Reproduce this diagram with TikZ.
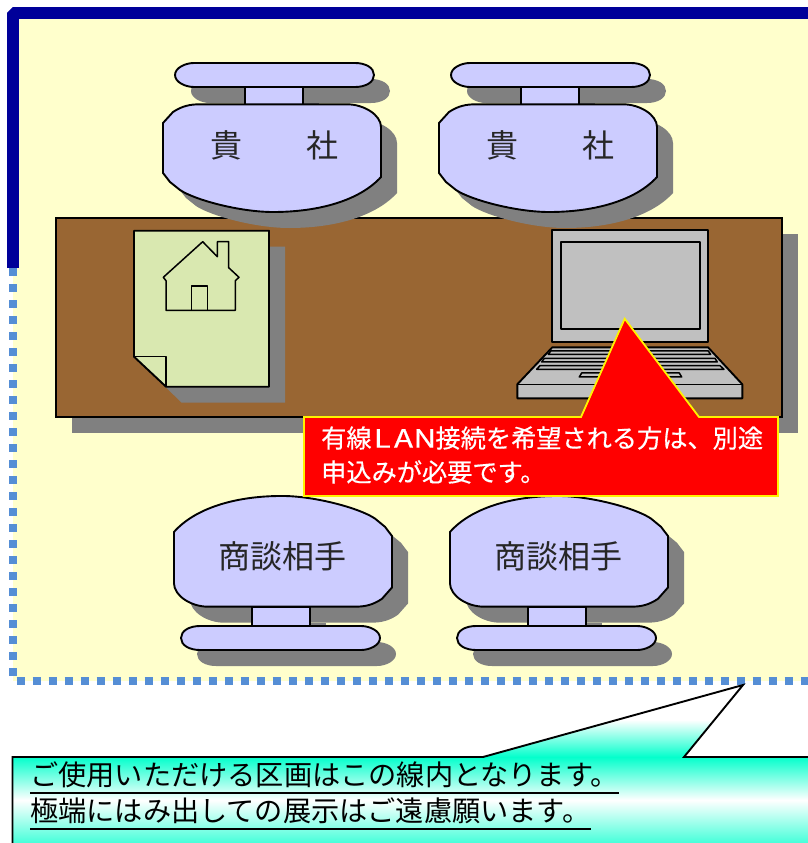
\documentclass[tikz,border=0pt]{standalone}
\usepackage{fontspec}
\usepackage{graphicx}
\setmainfont{Noto Sans CJK JP}
\setsansfont{Noto Sans CJK JP}
\newfontfamily\whitefont[FakeBold=0.5]{Noto Sans CJK JP}
\definecolor{navyline}{HTML}{000099}
\definecolor{dotblue}{HTML}{558ED5}
\definecolor{paleyellow}{HTML}{FFFFCC}
\definecolor{seatblue}{HTML}{CCCCFF}
\definecolor{tablebrown}{HTML}{996633}
\definecolor{shadowgray}{HTML}{808080}
\definecolor{docgreen}{HTML}{D9E8B0}
\definecolor{laptopgray}{HTML}{C0C0C0}
\definecolor{aqlow}{HTML}{30FFD5}
\definecolor{aqhigh}{HTML}{04FFCC}
\pgfdeclareverticalshading{calloutshade}{100bp}{
  color(0bp)=(aqlow);
  color(25bp)=(aqlow);
  color(39.7bp)=(white);
  color(52.9bp)=(aqhigh);
  color(64.3bp)=(white);
  color(100bp)=(white)}
\tikzset{
  x=1pt,y=-1pt,
  ink/.style={draw=black,line width=1.9pt,line join=round},
  thinink/.style={draw=black,line width=1.5pt,line join=round},
  shadowfill/.style={fill=shadowgray,draw=none},
  seatpart/.style={fill=seatblue,ink},
  dotline/.style={draw=dotblue,line width=8pt,dash pattern=on 8pt off 8pt},
  seatlabel/.style={inner sep=0pt,text=black!85,font=\fontsize{32}{34}\selectfont},
  notelabel/.style={inner sep=0pt,anchor=west,minimum height=36pt,font=\fontsize{28.2}{30}\selectfont},
  underline/.style={draw=black,line width=2pt}
}
\newcommand{\seatbody}{(163,123) -- (173,112) .. controls (182,106) and (190,104.3) .. (200,104.3) -- (347,104.3) .. controls (364,104.3) and (381,115) .. (381,127) -- (381,177) .. controls (360,200) and (320,212) .. (273,212) .. controls (240,212) and (195,200) .. (180,190) -- (170,182) -- (163,173) -- cycle}
\newcommand{\seatbar}{(175,75) .. controls (175,68) and (185,63) .. (194,63) -- (355,63) .. controls (366,63) and (374,68) .. (374,75) .. controls (374,82) and (366,87) .. (355,87) -- (194,87) .. controls (185,87) and (175,82) .. (175,75) -- cycle}
\newcommand{\seatneck}{(245,86) rectangle (303,106)}
% #1 X, #2 Y of bar and neck, #3 Y of body, #4 sign, #5 body y scale
\newcommand{\drawseat}[5]{%
  \begin{scope}[shift={(#1+16,#3+16)},xscale=#4,yscale=#4*#5]
    \path[shadowfill] \seatbody;
  \end{scope}
  \begin{scope}[shift={(#1+16,#2+16)},xscale=#4,yscale=#4]
    \path[shadowfill] \seatneck;
    \path[shadowfill] \seatbar;
  \end{scope}
  \begin{scope}[shift={(#1,#2)},xscale=#4,yscale=#4]
    \path[seatpart] \seatneck;
    \path[seatpart] \seatbar;
  \end{scope}
  \begin{scope}[shift={(#1,#3)},xscale=#4,yscale=#4*#5]
    \path[seatpart] \seatbody;
  \end{scope}}
\newcommand{\lanletter}[1]{\makebox[21.3pt][c]{\scalebox{1.25}[1]{#1}}}
\begin{document}
\begin{tikzpicture}
\useasboundingbox (0,0) rectangle (808,843);
\clip (0,0) rectangle (808,843);
% floor
\fill[paleyellow] (13,13) rectangle (808,681);
% boundary
\draw[dotline] (13,268) -- (13,677);
\draw[dotline] (16.5,681) -- (808,681);
\draw[navyline,line width=11.5pt,line join=bevel] (13,268) -- (13,13) -- (808,13);
% table
\fill[shadowgray] (72,234) rectangle (798,433);
\draw[fill=tablebrown,line width=1.5pt] (56,218) rectangle (782,417);
% seats
\drawseat{0}{0}{0}{1}{1}
\drawseat{276}{0}{0}{1}{1}
\drawseat{555}{713}{713.9}{-1}{1.028}
\drawseat{831}{713}{713.9}{-1}{1.028}
\node[seatlabel] (kisha1) at (274,145) {貴　　社};
\node[seatlabel] (kisha2) at (550,145) {貴　　社};
\node[seatlabel] (partner1) at (282,556) {商談相手};
\node[seatlabel] (partner2) at (558,556) {商談相手};
% document
\fill[shadowgray] (150,246.7) -- (285,246.7) -- (285,402.7) -- (181.7,402.7) -- (150,372) -- cycle;
\path[fill=docgreen,ink] (134,230.7) -- (269,230.7) -- (269,386.7) -- (166,386.7) -- (134,356.7) -- cycle;
\draw[thinink] (134,356.7) -- (166,356.7) -- (166,386.7);
\draw[thinink] (163.3,277.3) -- (202.7,241.7) -- (217.3,256.7) -- (217.3,241.7) -- (228.7,241.7) -- (228.7,267.7) -- (239,277.3) -- (235.3,280.7) -- (235.3,310.3) -- (166,310.3) -- (166,280.7) -- cycle;
\draw[thinink] (191.7,310.3) -- (191.7,286) -- (207.3,286) -- (207.3,310.3);
% laptop
\path[fill=laptopgray,ink] (552.3,230) rectangle (708,341.7);
\path[fill=laptopgray,ink] (561,241.7) rectangle (700,329);
\path[fill=laptopgray,ink] (552.3,347.3) -- (708,347.3) -- (742.3,384.3) -- (742.3,398.3) -- (517.3,398.3) -- (517.3,384.3) -- cycle;
\draw[thinink] (517.3,384.3) -- (742.3,384.3);
\begin{scope}[shift={(500,210)},scale=0.3333]
  \draw[thinink] (152,423) -- (625,423) -- (632,433) -- (145,433) -- cycle;
  \draw[thinink] (133,445) -- (645,445) -- (652,456) -- (125,456) -- cycle;
  \draw[thinink] (120,467) -- (660,467) -- (672,478) -- (110,478) -- cycle;
  \draw[thinink] (245,489) -- (538,489) -- (545,501) -- (238,501) -- cycle;
\end{scope}
% red callout
\path[fill=red,draw=yellow,line width=1.8pt,line join=miter] (304,417) -- (581,417) -- (624.7,318.7) -- (699,417) -- (778,417) -- (778,496) -- (304,496) -- cycle;
\node[inner sep=0pt,anchor=west,align=left,text=white,font=\whitefont\fontsize{25.2}{34}\selectfont] (wired) at (321,455) {有線\lanletter{L}\lanletter{A}\lanletter{N}接続を希望される方は、別途\\申込みが必要です。};
% note callout
\path[shading=calloutshade,draw=black,line width=1.9pt,line join=miter] (12.5,757) -- (483,757) -- (743,685) -- (684,757) -- (815,757) -- (815,848) -- (12.5,848) -- cycle;
\node[notelabel] (note1) at (30,775) {\raisebox{-3pt}{ご使用いただける区画はこの線内となります。}};
\node[notelabel] (note2) at (30,811) {\raisebox{-3pt}{極端にはみ出しての展示はご遠慮願います。}};
\draw[underline] (note1.south west) -- (note1.south east);
\draw[underline] (note2.south west) -- (note2.south east);
\end{tikzpicture}
\end{document}
